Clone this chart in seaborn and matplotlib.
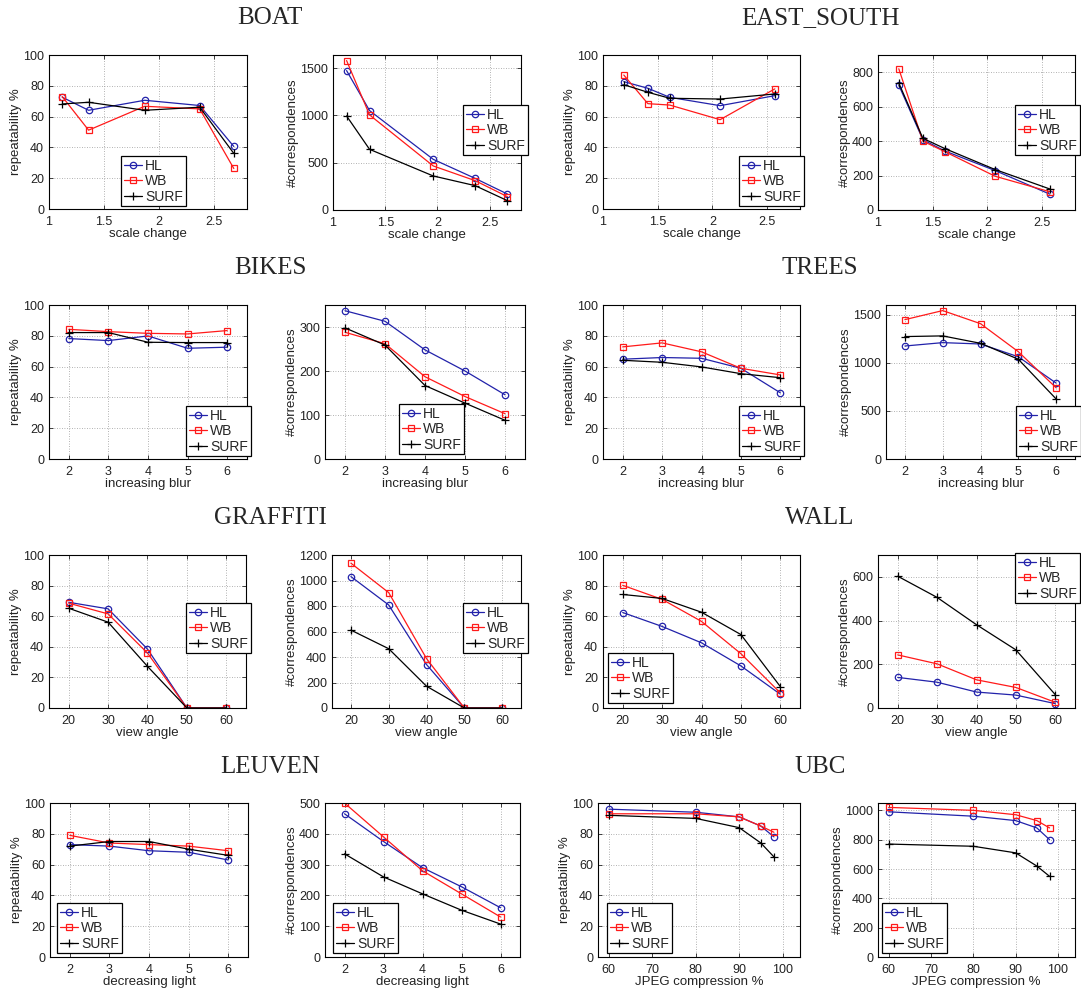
import matplotlib
matplotlib.use("Agg")
import matplotlib.pyplot as plt
from matplotlib.ticker import FormatStrFormatter
import seaborn as sns
import pandas as pd

sns.set_theme(style="ticks")
plt.rcParams["font.family"] = ["Liberation Sans", "DejaVu Sans"]

# ---------------- data ----------------
scale_boat_rep = [1.12, 1.36, 1.87, 2.37, 2.68]
scale_boat_corr = [1.13, 1.35, 1.96, 2.36, 2.67]
scale_east = [1.19, 1.41, 1.61, 2.07, 2.57]
blur = [2, 3, 4, 5, 6]
view_angle = [20, 30, 40, 50, 60]
light = [2, 3, 4, 5, 6]
jpeg = [60, 80, 90, 95, 98]

boat_rep_hl = [72.6, 64.1, 70.6, 67.2, 40.6]
boat_rep_wb = [73.0, 51.2, 66.7, 65.0, 26.3]
boat_rep_surf = [68.2, 69.3, 64.1, 66.1, 36.1]
boat_corr_hl = [1475, 1052, 536, 335, 169]
boat_corr_wb = [1581, 1006, 466, 311, 141]
boat_corr_surf = [995, 642, 360, 258, 99]

east_rep_hl = [82.7, 78.4, 72.5, 67.1, 73.6]
east_rep_wb = [87.0, 68.4, 67.5, 58.0, 78.0]
east_rep_surf = [80.7, 75.8, 71.9, 71.4, 74.7]
east_corr_hl = [725, 408, 343, 229, 92]
east_corr_wb = [820, 400, 339, 196, 106]
east_corr_surf = [737, 416, 357, 235, 122]

bikes_rep_hl = [78.2, 76.9, 79.9, 71.9, 72.6]
bikes_rep_wb = [84.2, 82.7, 81.6, 81.2, 83.4]
bikes_rep_surf = [82.1, 82.1, 75.8, 75.6, 75.6]
bikes_corr_hl = [337, 313, 248, 200, 146]
bikes_corr_wb = [288, 262, 187, 142, 103]
bikes_corr_surf = [298, 259, 167, 127, 88]

trees_rep_hl = [64.8, 65.9, 65.4, 58.9, 43.0]
trees_rep_wb = [72.8, 75.4, 69.6, 58.9, 54.6]
trees_rep_surf = [64.1, 62.8, 59.8, 55.4, 52.8]
trees_corr_hl = [1174, 1209, 1195, 1062, 789]
trees_corr_wb = [1448, 1542, 1406, 1115, 740]
trees_corr_surf = [1272, 1279, 1202, 1037, 624]

graf_rep_hl = [69.1, 64.8, 38.5, 0, 0]
graf_rep_wb = [68.5, 61.5, 35.9, 0, 0]
graf_rep_surf = [65.2, 56.1, 27.2, 0, 0]
graf_corr_hl = [1031, 808, 341, 0, 0]
graf_corr_wb = [1136, 905, 388, 0, 0]
graf_corr_surf = [611, 465, 171, 0, 0]

wall_rep_hl = [62.4, 53.3, 42.6, 27.5, 9.0]
wall_rep_wb = [80.2, 71.0, 56.6, 35.5, 9.9]
wall_rep_surf = [74.2, 71.6, 62.6, 48.0, 14.0]
wall_corr_hl = [140, 118, 73, 59, 20]
wall_corr_wb = [243, 202, 129, 94, 26]
wall_corr_surf = [603, 506, 381, 266, 61]

leuven_rep_hl = [73, 72, 69, 68, 63]
leuven_rep_wb = [79, 74, 73, 72, 69]
leuven_rep_surf = [72, 75, 75, 70, 66]
leuven_corr_hl = [465, 375, 290, 228, 160]
leuven_corr_wb = [500, 390, 280, 205, 130]
leuven_corr_surf = [335, 260, 205, 152, 107]

ubc_rep_hl = [96, 94, 91, 85, 78]
ubc_rep_wb = [93, 93, 91, 85, 81]
ubc_rep_surf = [92, 90, 84, 74, 65]
ubc_corr_hl = [990, 960, 930, 880, 800]
ubc_corr_wb = [1020, 1000, 970, 930, 880]
ubc_corr_surf = [770, 755, 710, 620, 550]

titles = ["BOAT", "EAST_SOUTH", "BIKES", "TREES", "GRAFFITI", "WALL", "LEUVEN", "UBC"]
methods = ["HL", "WB", "SURF"]

# ---------------- styling ----------------
W, H = 1081, 989
styles = {
    "HL": dict(color="#2222aa", marker="o", markersize=4.6, markerfacecolor="none",
               markeredgecolor="#2222aa", markeredgewidth=0.9),
    "WB": dict(color="#ff1a1a", marker="s", markersize=4.3, markerfacecolor="none",
               markeredgecolor="#ff1a1a", markeredgewidth=0.9),
    "SURF": dict(color="black", marker="+", markersize=5.8, markeredgecolor="black",
                 markeredgewidth=0.9),
}

scale_ax = dict(xlim=(1, 2.8), xticks=[1, 1.5, 2, 2.5], xlabel="scale change")
blur_ax = dict(xlim=(1.5, 6.5), xticks=blur, xlabel="increasing blur")
view_ax = dict(xlim=(15, 65), xticks=view_angle, xlabel="view angle")
light_ax = dict(xlim=(1.5, 6.5), xticks=light, xlabel="decreasing light")
jpeg_ax = dict(xlim=(57.5, 104), xticks=[60, 70, 80, 90, 100], xlabel="JPEG compression %")

rep_y = dict(ylim=(0, 100), yticks=[0, 20, 40, 60, 80, 100], ylabel="repeatability %")

panels = [
    # row 1
    (scale_boat_rep, (boat_rep_hl, boat_rep_wb, boat_rep_surf), scale_ax, rep_y),
    (scale_boat_corr, (boat_corr_hl, boat_corr_wb, boat_corr_surf), scale_ax,
     dict(ylim=(0, 1640), yticks=[0, 500, 1000, 1500], ylabel="#correspondences")),
    (scale_east, (east_rep_hl, east_rep_wb, east_rep_surf), scale_ax, rep_y),
    (scale_east, (east_corr_hl, east_corr_wb, east_corr_surf), scale_ax,
     dict(ylim=(0, 900), yticks=[0, 200, 400, 600, 800], ylabel="#correspondences")),
    # row 2
    (blur, (bikes_rep_hl, bikes_rep_wb, bikes_rep_surf), blur_ax, rep_y),
    (blur, (bikes_corr_hl, bikes_corr_wb, bikes_corr_surf), blur_ax,
     dict(ylim=(0, 350), yticks=[0, 100, 200, 300], ylabel="#correspondences")),
    (blur, (trees_rep_hl, trees_rep_wb, trees_rep_surf), blur_ax, rep_y),
    (blur, (trees_corr_hl, trees_corr_wb, trees_corr_surf), blur_ax,
     dict(ylim=(0, 1600), yticks=[0, 500, 1000, 1500], ylabel="#correspondences")),
    # row 3
    (view_angle, (graf_rep_hl, graf_rep_wb, graf_rep_surf), view_ax, rep_y),
    (view_angle, (graf_corr_hl, graf_corr_wb, graf_corr_surf), view_ax,
     dict(ylim=(0, 1200), yticks=[0, 200, 400, 600, 800, 1000, 1200],
          ylabel="#correspondences")),
    (view_angle, (wall_rep_hl, wall_rep_wb, wall_rep_surf), view_ax, rep_y),
    (view_angle, (wall_corr_hl, wall_corr_wb, wall_corr_surf), view_ax,
     dict(ylim=(0, 700), yticks=[0, 200, 400, 600], ylabel="#correspondences")),
    # row 4
    (light, (leuven_rep_hl, leuven_rep_wb, leuven_rep_surf), light_ax, rep_y),
    (light, (leuven_corr_hl, leuven_corr_wb, leuven_corr_surf), light_ax,
     dict(ylim=(0, 500), yticks=[0, 100, 200, 300, 400, 500], ylabel="#correspondences")),
    (jpeg, (ubc_rep_hl, ubc_rep_wb, ubc_rep_surf), jpeg_ax, rep_y),
    (jpeg, (ubc_corr_hl, ubc_corr_wb, ubc_corr_surf), jpeg_ax,
     dict(ylim=(0, 1050), yticks=[0, 200, 400, 600, 800, 1000], ylabel="#correspondences")),
]

# axes boxes in pixels: left, right, top, bottom
boxes = [
    (49, 247, 55, 209), (333, 521, 55, 210), (603, 800, 55, 209), (878, 1075, 55, 210),
    (49, 247, 305, 459), (325, 525, 305, 459), (603, 800, 305, 459), (886, 1075, 305, 459),
    (49, 246, 555, 708), (332, 521, 555, 708), (603, 800, 555, 708), (878, 1075, 555, 708),
    (50, 248, 803, 957), (325, 520, 803, 957), (598, 800, 803, 957), (878, 1075, 803, 957),
]
# legend upper-left corners in pixels
legend_pos = [
    (121, 156), (463, 105), (739, 156), (1015, 105),
    (186, 406), (399, 404), (739, 406), (1016, 406),
    (186, 603), (463, 603), (608, 653), (1015, 553),
    (57, 903), (333, 903), (607, 903), (882, 903),
]
title_pos = [(270, 18), (820, 18), (270, 268), (820, 268),
             (270, 518), (820, 518), (270, 767), (820, 767)]

fig = plt.figure(figsize=(W / 100, H / 100), dpi=100)
fig.patch.set_facecolor("white")

for i, (xs, series, xcfg, ycfg) in enumerate(panels):
    l, r, t, b = boxes[i]
    ax = fig.add_axes([l / W, 1 - b / H, (r - l) / W, (b - t) / H])
    ax.set_facecolor("white")
    for name, ys in zip(methods, series):
        df = pd.DataFrame({"x": xs, "y": ys})
        sns.lineplot(data=df, x="x", y="y", ax=ax, label=name, linewidth=0.9,
                     estimator=None, sort=False, **styles[name])
    ax.set_xlim(*xcfg["xlim"])
    ax.set_xticks(xcfg["xticks"])
    ax.set_ylim(*ycfg["ylim"])
    ax.set_yticks(ycfg["yticks"])
    ax.xaxis.set_major_formatter(FormatStrFormatter("%g"))
    ax.set_xlabel(xcfg["xlabel"], fontsize=9.5, labelpad=0, color="#222222")
    ax.set_ylabel(ycfg["ylabel"], fontsize=9.5, labelpad=1, color="#222222")
    ax.grid(True, linestyle=(0, (1, 2)), color="#999999", linewidth=0.6)
    ax.tick_params(direction="in", length=3, width=0.6, labelsize=9,
                   top=True, right=True, pad=3.5, colors="#222222")
    ax.tick_params(axis="x", pad=5)
    for sp in ax.spines.values():
        sp.set_visible(True)
        sp.set_linewidth(0.8)
        sp.set_color("black")
    lx, ly = legend_pos[i]
    leg = ax.legend(loc="upper left", bbox_to_anchor=(lx / W, 1 - ly / H),
                    bbox_transform=fig.transFigure, fontsize=10, frameon=True,
                    fancybox=False, framealpha=1, edgecolor="black",
                    borderpad=0.2, labelspacing=0.1, handlelength=1.3,
                    handletextpad=0.25, borderaxespad=0)
    leg.get_frame().set_linewidth(0.9)

for name, (tx, ty) in zip(titles, title_pos):
    fig.text(tx / W, 1 - ty / H, name, ha="center", va="center", fontsize=18,
             family=["Liberation Serif", "DejaVu Serif"])

fig.savefig("out.png", dpi=100, facecolor="white")
